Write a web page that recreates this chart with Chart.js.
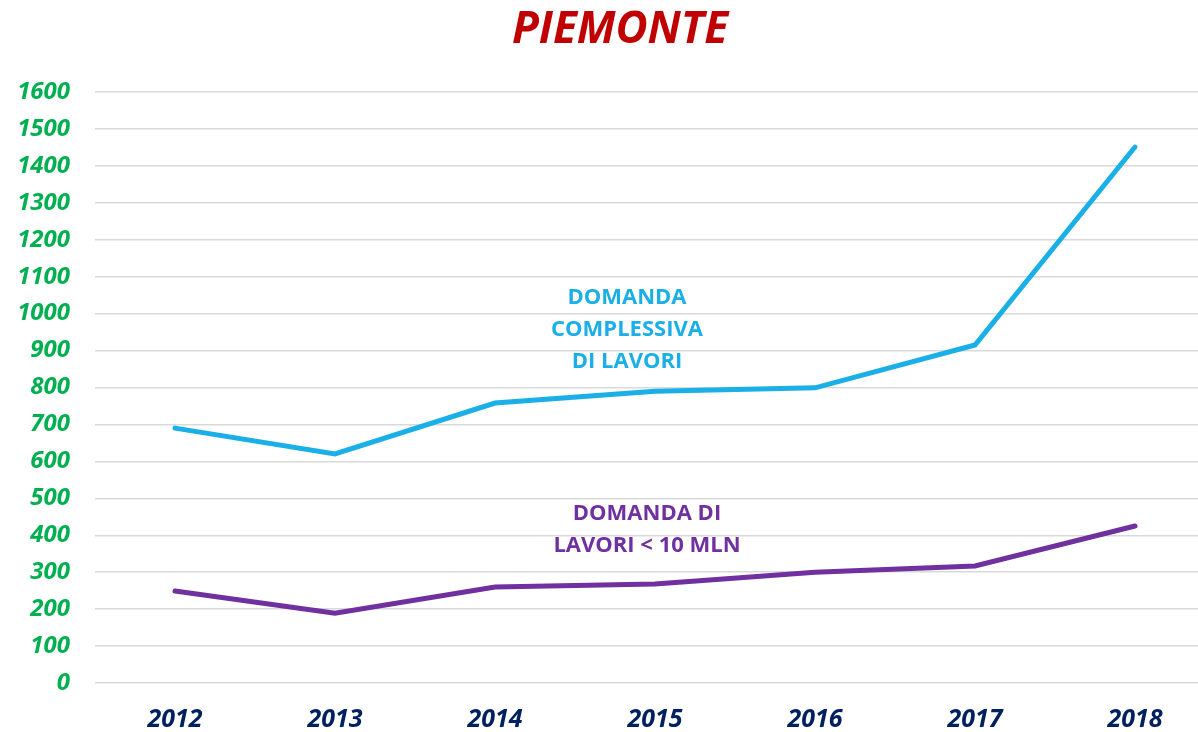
<!DOCTYPE html>
<html>
<head>
<meta charset="utf-8">
<script src="https://cdn.jsdelivr.net/npm/chart.js@4"></script>
<style>
  html, body { margin: 0; padding: 0; background: #fff; overflow: hidden; }
  #wrap { width: 1215px; height: 732px; }
</style>
</head>
<body>
<div id="wrap"><canvas id="chart-canvas" width="1215" height="732"></canvas></div>
<script>
const years = ["2012", "2013", "2014", "2015", "2016", "2017", "2018"];
const domandaComplessiva = [690, 620, 758, 790, 799, 915, 1451];
const domandaSotto10 = [249, 189, 260, 268, 300, 317, 425];
const yTicks = [0, 100, 200, 300, 400, 500, 600, 700, 800, 900, 1000, 1100, 1200, 1300, 1400, 1500, 1600];

const FONT = "'Open Sans', 'Liberation Sans', sans-serif";

// title + the two text labels inside the plot
const textPlugin = {
  id: "texts",
  afterDraw(chart) {
    const ctx = chart.ctx;
    ctx.save();
    ctx.textAlign = "center";
    ctx.textBaseline = "middle";

    ctx.fillStyle = "#C00000";
    ctx.font = "italic bold 44px " + FONT;
    ctx.fillText("PIEMONTE", 620, 30);

    ctx.font = "bold 22px " + FONT;
    ctx.fillStyle = "#1AAFE6";
    ["DOMANDA", "COMPLESSIVA", "DI LAVORI"].forEach((t, i) => {
      ctx.fillText(t, 627, 298 + i * 32);
    });

    ctx.fillStyle = "#7030A0";
    ["DOMANDA DI", "LAVORI < 10 MLN"].forEach((t, i) => {
      ctx.fillText(t, 647, 514 + i * 32);
    });
    ctx.restore();
  },
};

const ctx = document.getElementById("chart-canvas").getContext("2d");
new Chart(ctx, {
  type: "line",
  data: {
    labels: years,
    datasets: [
      {
        label: "Domanda complessiva di lavori",
        data: domandaComplessiva,
        borderColor: "#1AAFE6",
        borderWidth: 5,
        pointRadius: 0,
        tension: 0,
        borderCapStyle: "round",
      },
      {
        label: "Domanda di lavori < 10 mln",
        data: domandaSotto10,
        borderColor: "#7030A0",
        borderWidth: 5,
        pointRadius: 0,
        tension: 0,
        borderCapStyle: "round",
      },
    ],
  },
  options: {
    responsive: false,
    animation: false,
    layout: { padding: { top: 92, left: 0, right: 0, bottom: 0 } },
    plugins: {
      legend: { display: false },
      tooltip: { enabled: false },
    },
    scales: {
      x: {
        offset: true,
        grid: { display: false, drawTicks: false },
        border: { display: false },
        ticks: {
          padding: 22,
          color: "#002060",
          font: { family: FONT, size: 25, weight: "bold", style: "italic" },
        },
        afterFit(scale) { scale.height = 49; },
      },
      y: {
        min: 0,
        max: 1600,
        afterBuildTicks(scale) {
          scale.ticks = yTicks.map((v) => ({ value: v }));
        },
        grid: { color: "#D9D9D9", lineWidth: 1.5, drawTicks: false },
        border: { display: false },
        ticks: {
          padding: 25,
          color: "#00B050",
          font: { family: FONT, size: 24, weight: "bold", style: "italic" },
          callback: (v) => String(v),
        },
        afterFit(scale) { scale.width = 95; },
      },
    },
  },
  plugins: [textPlugin],
});
</script>
</body>
</html>
